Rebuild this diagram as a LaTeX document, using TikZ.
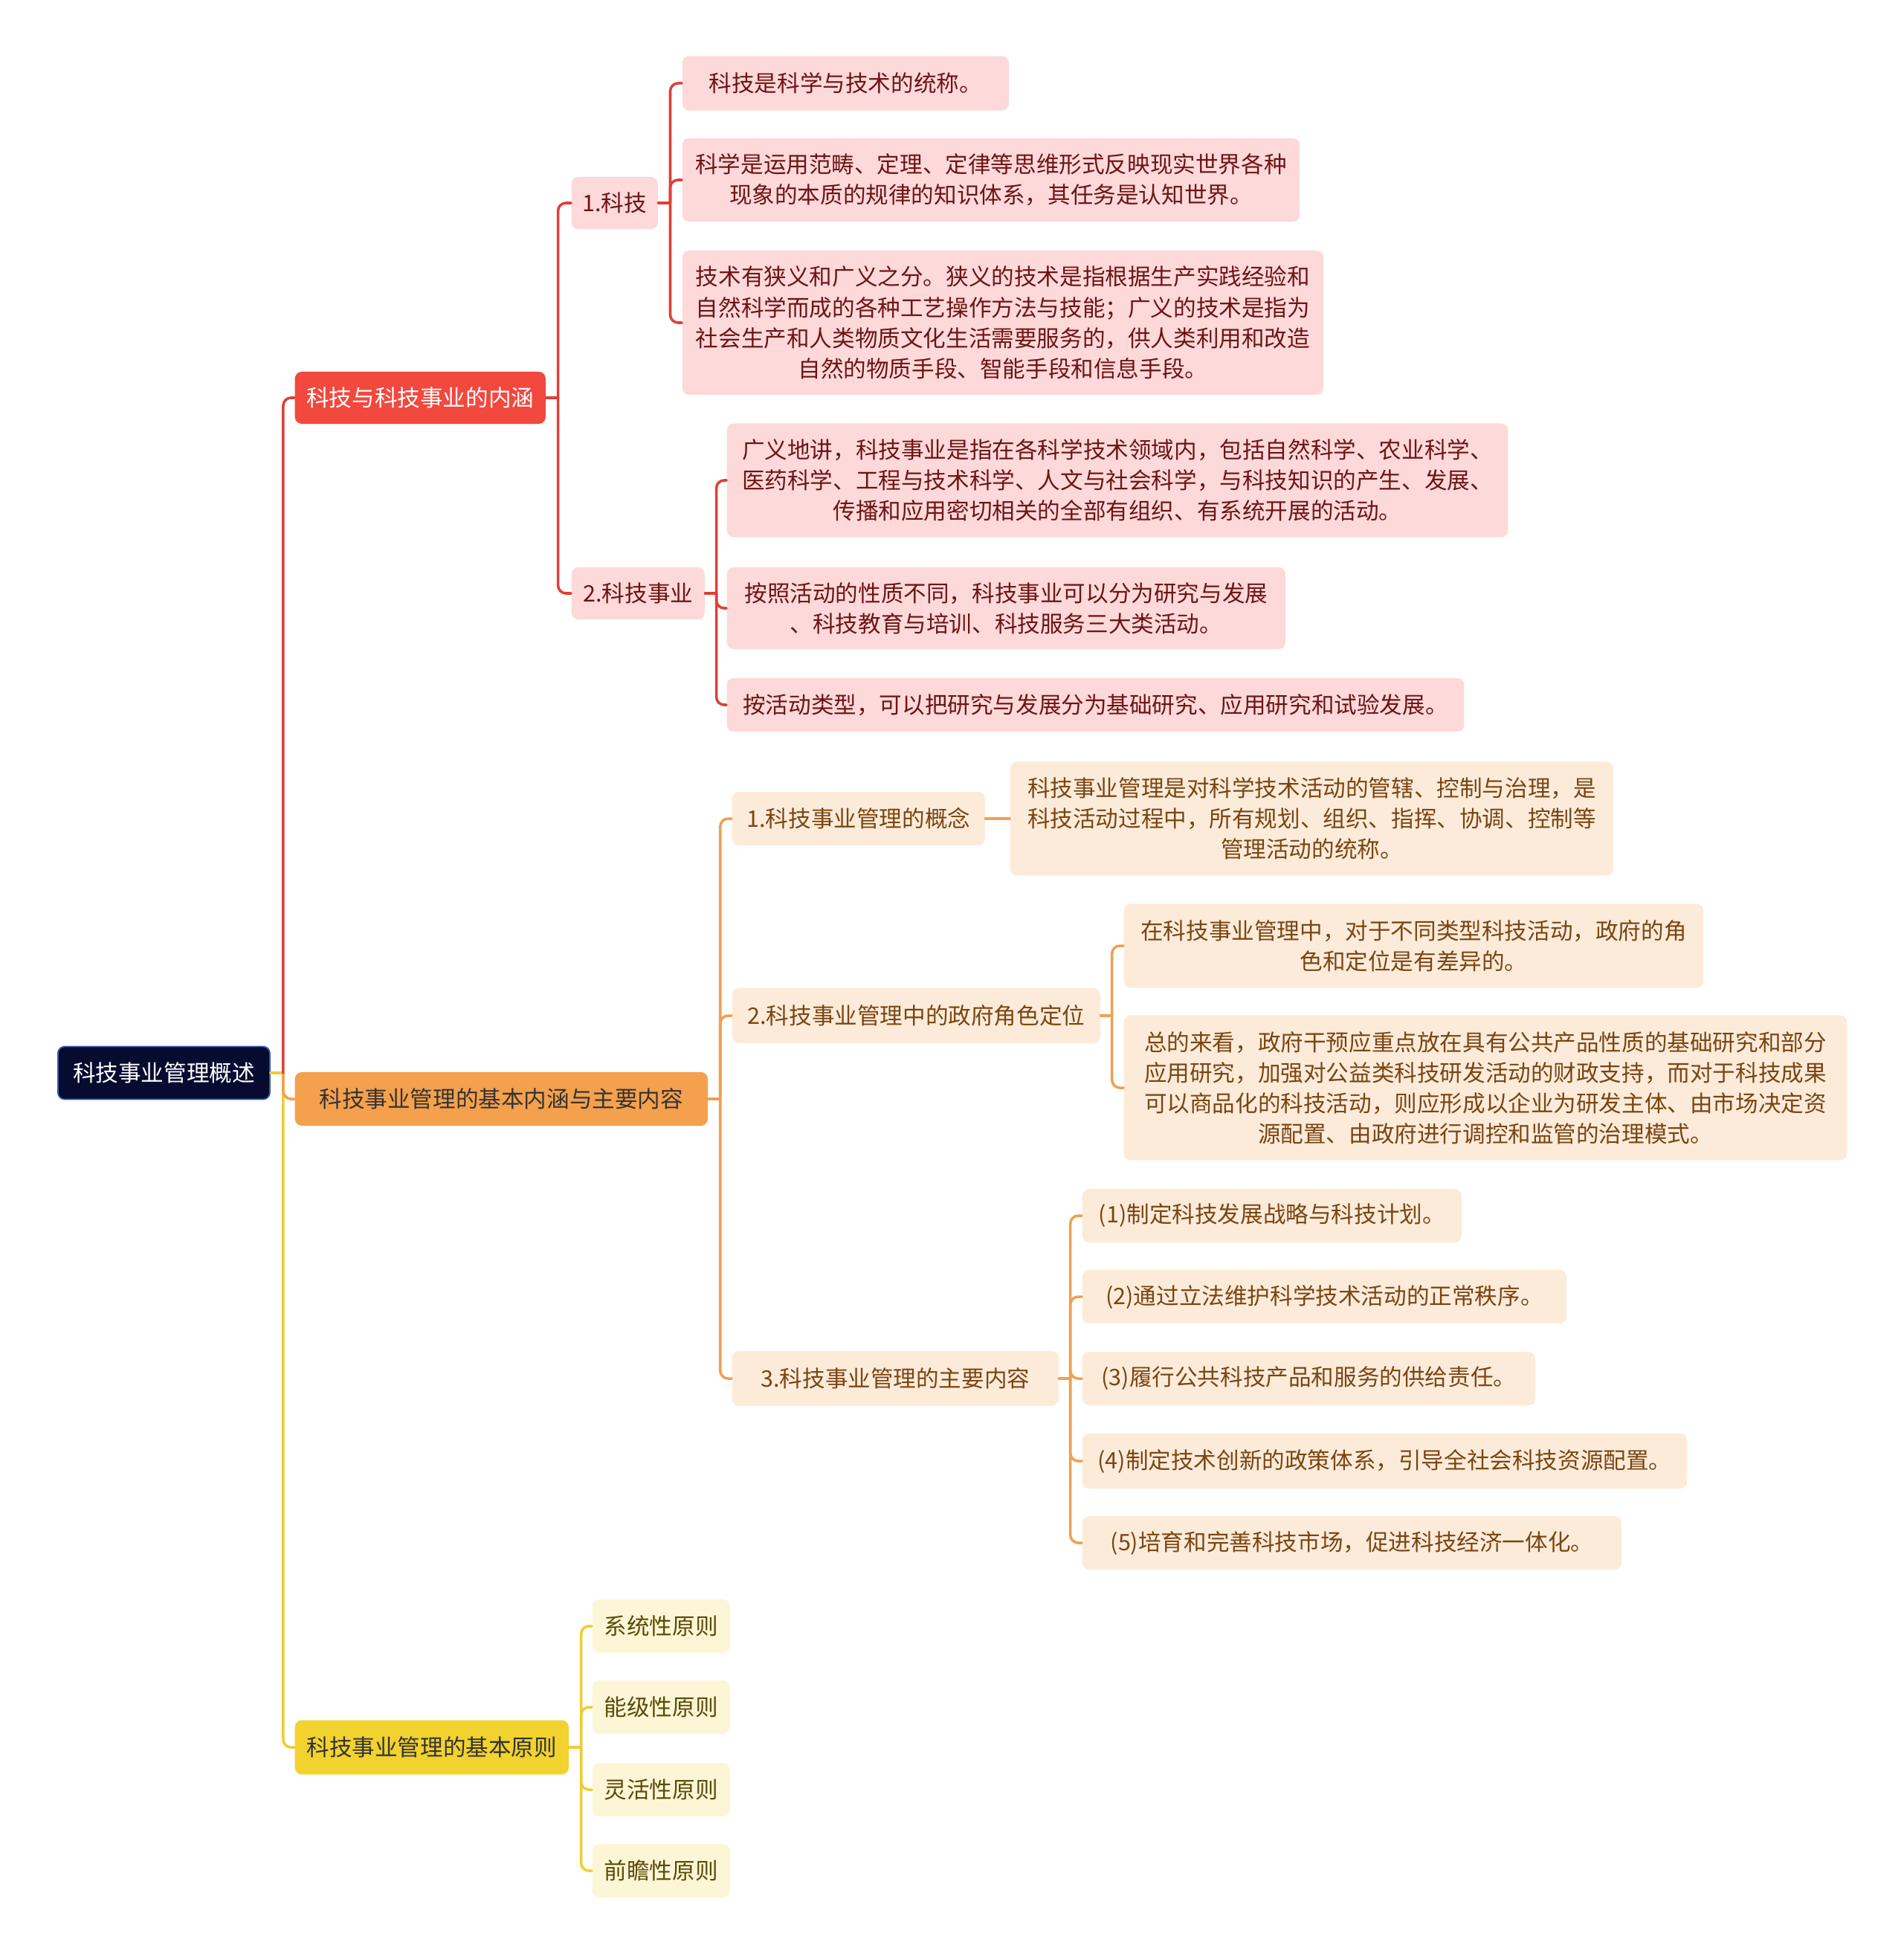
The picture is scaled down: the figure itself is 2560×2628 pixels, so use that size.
\documentclass[tikz,border=0pt]{standalone}
\usepackage{fontspec}
\setmainfont{Noto Sans CJK SC}
\usepackage{xcolor}
\usetikzlibrary{backgrounds}
\definecolor{rootbg}{HTML}{060B2F}
\definecolor{rootln}{HTML}{3A5BB0}
\definecolor{redmain}{HTML}{F2483E}
\definecolor{redln}{HTML}{DE4038}
\definecolor{redsoft}{HTML}{FDD9DA}
\definecolor{redink}{HTML}{6E1414}
\definecolor{orgmain}{HTML}{F5A04C}
\definecolor{orgln}{HTML}{EFA052}
\definecolor{orgsoft}{HTML}{FDEBDA}
\definecolor{orgink}{HTML}{7A4512}
\definecolor{ylwmain}{HTML}{F2D22E}
\definecolor{ylwln}{HTML}{F0CC30}
\definecolor{ylwsoft}{HTML}{FDF6D6}
\definecolor{ylwink}{HTML}{5A4A08}

\begin{document}
\begin{tikzpicture}[
  x=0.01cm, y=-0.01cm,
  box/.style={rounded corners=2.6pt, inner sep=0pt, anchor=west, align=center,
              font=\fontsize{8.7}{11.7}\selectfont},
  rootbox/.style={box, fill=rootbg, draw=rootln, line width=0.5pt, text=white},
  redtop/.style={box, fill=redmain, text=white},
  orgtop/.style={box, fill=orgmain, text=black!80},
  ylwtop/.style={box, fill=ylwmain, text=black!80},
  redleaf/.style={box, fill=redsoft, text=redink},
  orgleaf/.style={box, fill=orgsoft, text=orgink},
  ylwleaf/.style={box, fill=ylwsoft, text=ylwink},
  link/.style={line width=1pt, rounded corners=3pt, line cap=round},
  redlink/.style={link, draw=redln},
  orglink/.style={link, draw=orgln},
  ylwlink/.style={link, draw=ylwln}
]
\useasboundingbox (0,0) rectangle (2560,2628);

% root and main branches
\node[rootbox, minimum width=2.85cm, minimum height=0.71cm] (root) at (77,1443) {科技事业管理概述};
\node[redtop, minimum width=3.37cm, minimum height=0.70cm] (sci) at (396,535) {科技与科技事业的内涵};
\node[orgtop, minimum width=5.55cm, minimum height=0.72cm] (mgmt) at (396,1478) {科技事业管理的基本内涵与主要内容};
\node[ylwtop, minimum width=3.68cm, minimum height=0.73cm] (prin) at (396,2350) {科技事业管理的基本原则};

% red branch
\node[redleaf, minimum width=1.16cm, minimum height=0.70cm] (kj) at (768,273) {1.科技};
\node[redleaf, minimum width=1.79cm, minimum height=0.70cm] (kjsy) at (768,798) {2.科技事业};
\node[redleaf, minimum width=4.39cm, minimum height=0.73cm] (kj1) at (917,112) {科技是科学与技术的统称。};
\node[redleaf, minimum width=8.30cm, minimum height=1.12cm] (kj2) at (917,242)
  {科学是运用范畴、定理、定律等思维形式反映现实世界各种\\现象的本质的规律的知识体系，其任务是认知世界。};
\node[redleaf, minimum width=8.62cm, minimum height=1.94cm] (kj3) at (917,434)
  {技术有狭义和广义之分。狭义的技术是指根据生产实践经验和\\自然科学而成的各种工艺操作方法与技能；广义的技术是指为\\社会生产和人类物质文化生活需要服务的，供人类利用和改造\\自然的物质手段、智能手段和信息手段。};
\node[redleaf, minimum width=10.50cm, minimum height=1.53cm] (sy1) at (977,646)
  {广义地讲，科技事业是指在各科学技术领域内，包括自然科学、农业科学、\\医药科学、工程与技术科学、人文与社会科学，与科技知识的产生、发展、\\传播和应用密切相关的全部有组织、有系统开展的活动。};
\node[redleaf, minimum width=7.51cm, minimum height=1.10cm] (sy2) at (977,818)
  {按照活动的性质不同，科技事业可以分为研究与发展\\、科技教育与培训、科技服务三大类活动。};
\node[redleaf, minimum width=9.91cm, minimum height=0.72cm] (sy3) at (977,948)
  {按活动类型，可以把研究与发展分为基础研究、应用研究和试验发展。};

% orange branch
\node[orgleaf, minimum width=3.40cm, minimum height=0.72cm] (gn) at (984,1101) {1.科技事业管理的概念};
\node[orgleaf, minimum width=4.95cm, minimum height=0.74cm] (zf) at (984,1366) {2.科技事业管理中的政府角色定位};
\node[orgleaf, minimum width=4.39cm, minimum height=0.74cm] (nr) at (984,1854) {3.科技事业管理的主要内容};
\node[orgleaf, minimum width=8.11cm, minimum height=1.53cm] (gn1) at (1358,1101)
  {科技事业管理是对科学技术活动的管辖、控制与治理，是\\科技活动过程中，所有规划、组织、指挥、协调、控制等\\管理活动的统称。};
\node[orgleaf, minimum width=7.79cm, minimum height=1.13cm] (zf1) at (1511,1272)
  {在科技事业管理中，对于不同类型科技活动，政府的角\\色和定位是有差异的。};
\node[orgleaf, minimum width=9.72cm, minimum height=1.95cm] (zf2) at (1511,1463)
  {总的来看，政府干预应重点放在具有公共产品性质的基础研究和部分\\应用研究，加强对公益类科技研发活动的财政支持，而对于科技成果\\可以商品化的科技活动，则应形成以企业为研发主体、由市场决定资\\源配置、由政府进行调控和监管的治理模式。};
\node[orgleaf, minimum width=5.10cm, minimum height=0.72cm] (nr1) at (1455,1635) {(1)制定科技发展战略与科技计划。};
\node[orgleaf, minimum width=6.51cm, minimum height=0.72cm] (nr2) at (1455,1744) {(2)通过立法维护科学技术活动的正常秩序。};
\node[orgleaf, minimum width=6.09cm, minimum height=0.72cm] (nr3) at (1455,1854) {(3)履行公共科技产品和服务的供给责任。};
\node[orgleaf, minimum width=8.13cm, minimum height=0.74cm] (nr4) at (1455,1965) {(4)制定技术创新的政策体系，引导全社会科技资源配置。};
\node[orgleaf, minimum width=7.25cm, minimum height=0.72cm] (nr5) at (1455,2075) {(5)培育和完善科技市场，促进科技经济一体化。};

% yellow branch
\node[ylwleaf, minimum width=1.85cm, minimum height=0.72cm] (yz1) at (796,2187) {系统性原则};
\node[ylwleaf, minimum width=1.85cm, minimum height=0.72cm] (yz2) at (796,2296) {能级性原则};
\node[ylwleaf, minimum width=1.85cm, minimum height=0.72cm] (yz3) at (796,2407) {灵活性原则};
\node[ylwleaf, minimum width=1.85cm, minimum height=0.72cm] (yz4) at (796,2516) {前瞻性原则};

% connectors: stub out of the parent, then trunk and elbow to each child
\draw[ylwlink] (root.east) -- ++(17,0);
\draw[ylwlink] ([xshift=0.17cm]root.east) |- (prin.west);
\draw[orglink] ([xshift=0.17cm]root.east) |- (mgmt.west);
\draw[redlink] ([xshift=0.17cm]root.east) |- (sci.west);

\draw[redlink] (sci.east) -- ++(16,0);
\foreach \c in {kj,kjsy}
  \draw[redlink] ([xshift=0.16cm]sci.east) |- (\c.west);
\draw[redlink] (kj.east) -- ++(16,0);
\foreach \c in {kj1,kj2,kj3}
  \draw[redlink] ([xshift=0.16cm]kj.east) |- (\c.west);
\draw[redlink] (kjsy.east) -- ++(15,0);
\foreach \c in {sy1,sy2,sy3}
  \draw[redlink] ([xshift=0.15cm]kjsy.east) |- (\c.west);

\draw[orglink] (mgmt.east) -- ++(16,0);
\foreach \c in {gn,zf,nr}
  \draw[orglink] ([xshift=0.16cm]mgmt.east) |- (\c.west);
\draw[orglink] (gn.east) -- (gn1.west);
\draw[orglink] (zf.east) -- ++(15,0);
\foreach \c in {zf1,zf2}
  \draw[orglink] ([xshift=0.15cm]zf.east) |- (\c.west);
\draw[orglink] (nr.east) -- ++(15,0);
\foreach \c in {nr1,nr2,nr3,nr4,nr5}
  \draw[orglink] ([xshift=0.15cm]nr.east) |- (\c.west);

\draw[ylwlink] (prin.east) -- ++(16,0);
\foreach \c in {yz1,yz2,yz3,yz4}
  \draw[ylwlink] ([xshift=0.16cm]prin.east) |- (\c.west);
\end{tikzpicture}
\end{document}
